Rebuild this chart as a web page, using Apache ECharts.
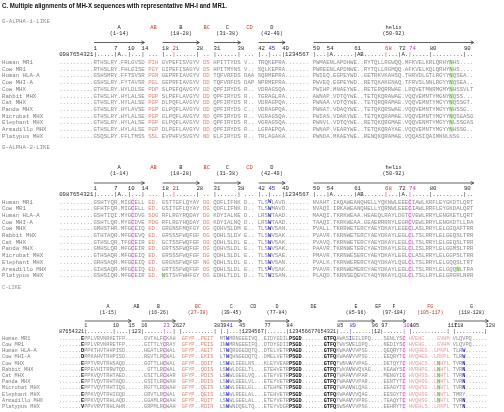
<!DOCTYPE html>
<html><head><meta charset="utf-8">
<script src="https://cdn.jsdelivr.net/npm/echarts@6.0.0/dist/echarts.min.js"></script>
<style>html,body{margin:0;padding:0;background:#fff;}#chart{width:504px;height:412px;}</style>
</head><body><div id="chart"></div>
<script>
// ================= DATA =================
const TITLE = 'C. Multiple alignments of MH-X sequences with representative MH-I and MR1.';
const SPECIES = ['Human MR1','Cow MR1','Human HLA-A','Cow MHI-A','Cow MHX','Rabbit MHX','Cat MHX','Panda MHX','Microbat MHX','Elephant MHX','Armadillo MHX','Platypus MHX'];

// ---- G-ALPHA-1-LIKE ----
const P1_TITLE = 'G-ALPHA-1-LIKE';
const P1_LABELS = ['', 'A', 'AB', 'B', 'BC', 'C', 'CD', 'D', 'helix'];
const P1_RANGES = ['', '(1-14)', '', '(18-28)', '', '(31-38)', '', '(42-49)', '(50-92)'];
const P1_RULER = ['0987654321','|.....|A..|...|','...','|..|......|','..','|......|','...','|..|...|1234567','|...|A......|AB......|...|A.|.....|.........|..'];
const P1_STARTS = [null, 1, 15, 18, 29, 31, 39, 42, 50];
const P1_NUMBERS = [1,7,10,14,18,21,28,31,38,42,45,49,50,54,61,68,72,74,80,90];
const P1_LEAD = ['..........','..........','..........','..........','..........','..........','..........','..........','..........','..........','..........','..........'];
const P1_A = ['RTHSLRY.FRLGVSD','RTHSLRY.FHLGISE','GSHSMRY.FFTSVSR','GSHSLRY.FYTAVSR','GTHSLRY.HYLDLSE','GTHSLHY.HYLALSE','GTHSLRY.HYLALSE','GTHSLRY.HYLAVSE','GTHSLRY.HYLALSE','GTHSLRY.HYLALSE','GTHSLRY.HYLALSE','GSQSLRY.FFLTMSS'];
const P1_AB = ['PIH','PGY','PGR','PGL','PDP','PGP','PGP','PGP','PGP','PGP','PGP','SSL'];
const P1_B = ['GVPEFISVGYV','GIPEFISAGYV','GEPRFIAVGYV','GEPRFIAVGYV','SLPEFQAVGYV','SLPEFLAVGYV','DLPQFLAVGYV','GLPQFLAVGYV','GLPQFLAVGYV','GLPQFLAVGYV','DLPEFLAVGYV','EVPHFVSVGYV'];
const P1_BC = ['DS','DS','DD','DD','DD','DD','DD','DD','ND','DD','DD','ND'];
const P1_C = ['HPITTYDS','HPITMYNS','TQFVRFDS','TQFVRFDS','QPFIRYDS','QPFIRYDS','QPFIRYDS','QPFIRYDS','QPFIRYDS','QPFIRYDS','QPFIRYDS','ELFIRYDS'];
const P1_CD = ['V..','V..','DAA','DAP','R..','R..','R..','C..','R..','R..','R..','R..'];
const P1_D = ['TRQKEPRA.......','SQLKEPRA.......','SQRMEPRA.......','NPRMEPRA.......','VDRAGSQA.......','TGRAGLRA.......','VDRAGPQA.......','VDRAGPQA.......','VGRAGSQA.......','VGRAGSQA.......','LGRAEPQA.......','TRLAGAKA.......'];
const P1_H = [
 'PWMAENLAPDHWE..RYTQLLRGWQQ.MFKVELKRLQRHYNHS....',
 'PWREENLAPDNWE..RYTQLLRGMQQ.AFKVELKQLQRHYNHS....',
 'PWIEQ.EGPEYWD..GETRKVKAHSQ.THRVDLGTLRGYYNQSEA..',
 'PWVEQ.EGPEYWD..RETQKAKGNAQ.TFRVSLNNLRGYYNQSEA..',
 'PWIHP.MNAEYWE..RETERQRRWAE.LRQVETMNRMGMYNHSSVLT',
 'AWNAP.VDTQYWE..TETQKQRAWAE.VQQVEMNTYMGNYNQSS...',
 'PWNAA.VDTQYWE..TETQRQRAMAE.VQQVEMNTYMGYYNQSSGT.',
 'PWNAT.VDAQYWE..TETQKQRSWAE.VQQVEMNTYMGYYNHSSG..',
 'PWIAS.VDAKYWE..TETQKQRAMAE.VQQVEMNTYMGYYNQSGASG',
 'PWNVL.VDTQYWE..RETQKQRGMAE.VQQVENMTYMGYYNLSSGAS',
 'PWNAP.VEARYWE..TETQKQRAYAE.VQQVEMNTYMGYYNHSSG..',
 'PWNDA.MKAEYWE..RENQKQRAMAE.VQQASIQAIMNNLNSG....'];

// ---- G-ALPHA-2-LIKE ----
const P2_TITLE = 'G-ALPHA-2-LIKE';
const P2_LABELS = P1_LABELS;
const P2_RANGES = P1_RANGES;
const P2_RULER = P1_RULER;
const P2_STARTS = P1_STARTS;
const P2_NUMBERS = P1_NUMBERS;
const P2_LEAD = P1_LEAD;
const P2_A = ['GSHTYQR.MIGCELL','GFHTFQR.MIGCELL','GSHTIQI.MYGCDVG','GSHTLQR.MYGCDVE','GMHSTHR.MFGCEIQ','GTHTAQR.MFGCEVQ','GTHSLQR.TFGCEIR','GMHSLQR.MFGCEIR','GTHSAQR.MFGCEIQ','GRHSAQR.MFGCEIQ','GIHSAQR.MFGCEIQ','GSHSIQR.MFGCEIR'];
const P2_AB = ['ED.','ED.','SDG','PDG','ED.','ED.','ED.','ED.','ED.','ED.','ED.','ED.'];
const P2_B = ['GSTTGFLQYAY','GSITGFLQYAY','RFLRGYRQDAY','RFLRGYHQDAY','GRGNSFMQFGY','GRSSSFWQFGF','GCTSSFWQFGF','GRTSSFWQFGF','GRSSSFWQFGF','GRGNSFWQFGF','GRTSSFWQFGF','NSTSVFWHFGY'];
const P2_BC = ['DG','DG','DG','DG','DG','DG','DG','DG','DG','NG','DG','DG'];
const P2_C = ['QDFLIFNK','QDFLIFNK','KDYIALNE','KDYIALNQ','QDHVSLDM','QDHLSLDV','QDHLSLDL','QDHVSLDL','QDHLSLDL','QDHLSLDL','QDHLSLDL','EDHLTLDL'];
const P2_CD = ['D..','D..','D..','D..','E..','E..','E..','E..','E..','E..','E..','D..'];
const P2_D = ['TLSWLAVD.......','TLSWMAVD.......','LRSWTAAD.......','LRSWTAAD.......','TLSWVSAN.......','TLSWVSAK.......','TLSWVSAK.......','TLSWVSAK.......','TLSWVSAE.......','TLSWVSAN.......','TLSWVSAK.......','TLTWISAN.......'];
const P2_H = [
 'NVAHT.IKQAWEANQHELLYQKNWLEEECIAWLKRFLEYGKDTLQRT',
 'NVAQI.IRKAWEANQHELLYQRNWLEEECIAWLRRFLEYGKDALQRT',
 'MAAQI.TKRKWEAA.HEAEQLRAYLDGTCVEWLRRYLENGKETLQRT',
 'TAAQI.TKRKWEAA.GEAERRRNYLEGRCVEWLRRYLENGKDTLLRA',
 'PVALL.TKRRWETERCYAEYDKAYLEGECLASLRRYLELGGQAFTRR',
 'PVAVR.TKRNWETERCYAEYDKAYLEGLCLTSLRRYLELGEQSLTRR',
 'PVAVQ.TKRNWETERCYAEYDKAYLEGLCLTSLRRYLELGEQSLTRR',
 'PAAVR.TKRNWETERCYAEYDKAYLEGLCLISLRRYLELGGMSLTRR',
 'PMAVR.TKRNWESERCYAEYDKAYLEGLCLASLRRYLELGGPSLTRR',
 'PVALK.TKRNWERERCYAQYDKAYLQGLCLTSLRRYLELGQQSLTRT',
 'PVAVR.TKRNWEMERCYAEYDKAYLEGLCLTSLRRYLELGQQNLTRA',
 'PLAQD.TKRNSEQEVCYAQYNKAYLQGLCLTSLLRYLELGRGRLNRR'];

// ---- C-LIKE ----
const P3_TITLE = 'C-LIKE';
const P3_LABELS = ['', 'A', 'AB', 'B', 'BC', 'C', 'CD', 'D', 'DE', 'E', 'EF', 'F', 'FG', 'G'];
const P3_RANGES = ['', '(1-15)', '', '(16-26)', '(27-38)', '(39-45)', '', '(77-84)', '', '(85-96)', '', '(97-104)', '(105-117)', '(118-128)'];
const P3_RULER = ['87654321','|........|....|','123','|......|..|','|..........|','|.|...|','1234567','|......|','123456677654321','|...|......|','12','|......|','|...........|','|.........|'];
const P3_STARTS = [null, 1, null, 16, 27, 39, null, 77, null, 85, null, 97, 105, 118];
const P3_NUMBERS = [1,10,15,16,23,26,27,38,39,41,45,77,84,85,89,96,97,104,105,117,118,128];
const P3_LEAD = ['.......E','.......E','.......D','.......D','.......E','.......E','.......E','.......E','.......E','.......E','.......E','.......V'];
const P3_A = ['PPLVRVNRKETFP..','PPLVRVNRRETFP..','PPKTHVTHHPISD..','PPKAHVTRHPISD..','PPTVRVTRHSAQD..','PPEVHITRRWTQD..','PPKVQVTRHTAED..','PPTVQVTRHTAQD..','PPTVQVTRHTIQG..','PPKVQVTRHIGQD..','PPKVQVTRHLAQD..','PPVVRVTRHLAHN..'];
const P3_AB = ['...','...','...','...','...','...','...','...','...','...','...','...'];
const P3_B = ['.GVTALFCKAH','.GITTLYCRAY','.HEATLRCWAL','.REVTLRCWAL','.GGTTLHCWAL','..GTTLRCWAL','.GSITLRCWAR','.GSITLRCWAH','.RGTTLRCWAH','.GRVTLRCWAL','.GGAMLRCWAH','.GRPMLRCWAH'];
const P3_BC = [' GFYP..PEIT ',' GFYP..PEIS ',' GFYP..AEIT ',' GFYP..EKIS ',' GFYP..QDIT ',' GFYP..QDIS ',' GFYP..RDIS ',' GFYP..RDIS ',' GFYP..QEIS ',' GFYP..QEIS ',' GFYP..RDIT ',' GFYP..RDIR '];
const P3_C = ['MTWMRNG','INWMRNG','LTWQRDG','LTWQHNG','LSWWLGE','LSWWLDG','LSWWLGE','LSWWLGE','LSWWLGE','LSWWLRE','LSWWLGE','LSWWNDQ'];
const P3_CD = ['EEIVQ..','EEIFQ..','EDQTQ..','EDQTQ..','ELNS...','ELTL...','ELVQ...','ELVL...','ELGL...','ELAL...','ELAL...','ELTQ...'];
const P3_D = ['EIDYGDIL','DTDYGDII','DTELVETR','DMELVETR','KLEYVEAR','ETEHVETR','ETEYVETR','ETEYVETR','ETEHMETR','ETEHVETR','ETEYVETR','ETEYVDGR'];
const P3_DE = ['PSGD.......GTFQ','PSGD.......GTFQ','PAGD.......GTFQ','PSGD.......GTFQ','PSGD.......GTFQ','PSGD.......GTFQ','PSGD.......GTFQ','PSGD.......GTFQ','PSGD.......GTFQ','PSGD.......GTFQ','PSGD.......GTFQ','PSGD.......GTFQ'];
const P3_E = ['AWASIEILDPQ.','TWVSVELDPQ..','KWAAVVVPSG..','KWAAVVVPSG..','TWNVAVVPAG..','TWVAVWVQVAG.','TWAAVVVPAR..','TWAAVVVPAR..','TWAAVWLQAG..','KWAAVVVQAG..','TWAAVVVPRG..','SWSAVVVPSG..'];
const P3_EF = ['..','..','..','..','..','..','..','..','..','..','..','..'];
const P3_F = ['.SENLYSC','.NEDIYSC','.QEQRYTC','.EEQRYTC','.DETQYTC','.KEAWYSC','.MENGYIC','.EENTYTC','.EEAGYTC','.EESGYTC','.TEAQYTC','.EEHRYTC'];
const P3_FG = ['HVEHC....GVHM','HVEHG....GVHM','HVQHEG..LPKPL','HVQHEG..LRKPL','HVQHCS..LNHTL','HVRHPG..LNHTL','HVQHSS..LNHTL','HVQHSG..LNHTL','HVQHSG..LNHTL','HVQHSG..LNHTL','HVQHSG..LNHTL','HVEHLS..LRKPL'];
const P3_G = ['VLQVPQ.....','VLQVPQ.....','TLRW.......','TLRW.......','TVRN.......','TVRN.......','TVRN.......','TVRN.......','TVRN.......','TMRY.......','TVRN.......','TVTN.......'];

// ================= STYLE / LAYOUT =================
const MONO = "'Liberation Mono','DejaVu Sans Mono',monospace";
const C_SEQ = '#8d8d8d', C_NAME = '#7d7d7d', C_HEAD = '#2a2a2a';
const C_RED = '#c0392b', C_BLUE = '#2b2bc8', C_PURPLE = '#b23cb2';

const PANELS = [
 { title: P1_TITLE, labels: P1_LABELS, ranges: P1_RANGES, ruler: P1_RULER, starts: P1_STARTS, numbers: P1_NUMBERS,
   seqs: [P1_LEAD, P1_A, P1_AB, P1_B, P1_BC, P1_C, P1_CD, P1_D, P1_H],
   seps: ['', ' ', ' ', ' ', ' ', ' ', ' ', ' ', ''],
   base: ['g','g','s','g','s','g','g','g','g'],
   redLabel: [2,4,6], arrows: [1,3,5,7,8],
   numColor: {21:C_RED, 45:C_BLUE, 68:C_RED, 74:C_PURPLE},
   marks: [[8,40,'n',[0,1,2,3,4,5,6,7,8,9,10]]],
   L: {titleY:21, lab1:28, lab2:33.5, arrow:42.5, num:48, ruler:54, row0:62.5, pitch:6.7, x0:59.2, cw:3.43} },
 { title: P2_TITLE, labels: P2_LABELS, ranges: P2_RANGES, ruler: P2_RULER, starts: P2_STARTS, numbers: P2_NUMBERS,
   seqs: [P2_LEAD, P2_A, P2_AB, P2_B, P2_BC, P2_C, P2_CD, P2_D, P2_H],
   seps: ['', ' ', ' ', ' ', ' ', ' ', ' ', ' ', ''],
   base: ['g','g','s','g','s','g','g','g','g'],
   redLabel: [2,4,6], arrows: [1,3,5,7,8],
   numColor: {21:C_RED, 45:C_BLUE, 68:C_RED, 74:C_PURPLE},
   marks: [[1,11,'c'],[7,3,'w'],[8,28,'c'],[8,42,'n',[10]],[3,0,'n',[11]]],
   L: {titleY:147, lab1:168, lab2:173.5, arrow:183, num:188.5, ruler:194.5, row0:202, pitch:6.7, x0:59.2, cw:3.43} },
 { title: P3_TITLE, labels: P3_LABELS, ranges: P3_RANGES, ruler: P3_RULER, starts: P3_STARTS, numbers: P3_NUMBERS,
   seqs: [P3_LEAD, P3_A, P3_AB, P3_B, P3_BC, P3_C, P3_CD, P3_D, P3_DE, P3_E, P3_EF, P3_F, P3_FG, P3_G],
   seps: ['', '', '', ' ', ' ', '', '', '', '', '', '', ' ', ' ', ''],
   base: ['g','g','g','g','s','g','g','g','g','g','g','g','p','g'],
   redLabel: [4,12], redRange: [4,12], arrows: [1,3,5,7,9,11,13],
   numColor: {23:C_PURPLE, 41:C_BLUE, 89:C_BLUE, 104:C_PURPLE},
   marks: [[0,7,'b'],[3,7,'c'],[5,2,'w'],[8,0,'b'],[8,1,'b'],[8,2,'b'],[8,3,'b'],[8,11,'b'],[8,12,'b'],[8,13,'b'],[8,14,'b'],
           [9,4,'v'],[11,7,'c'],[12,9,'n',[4,5,6,7,8,9,10]],[13,3,'w',[2,3,4,5,6,7,8,10,11]]],
   L: {titleY:288, lab1:307, lab2:313, arrow:321, num:326, ruler:331.5, row0:338.5, pitch:6.2, x0:59, cw:3.16} }
];

// ================= RENDER =================
const chart = echarts.init(document.getElementById('chart'), null, {renderer: 'canvas'});
const els = [];

function text(x, y, t, font, fill, align, extra) {
  els.push(Object.assign({ type: 'text', x: x, y: y, silent: true,
    style: { text: t, font: font, fill: fill, align: align || 'left', verticalAlign: 'middle',
             textAlign: align || 'left', textVerticalAlign: 'middle' } }, extra || {}));
}

function makeRich(fs) {
  const base = { fontFamily: MONO, fontSize: fs, lineHeight: fs + 1 };
  const mk = (o) => Object.assign({}, base, o);
  return {
    g: mk({ fill: C_SEQ, color: C_SEQ }),
    s: mk({ fill: '#d88673', color: '#d88673' }),
    p: mk({ fill: '#e0a0a4', color: '#e0a0a4' }),
    c: mk({ fill: '#cc2ccc', color: '#cc2ccc', backgroundColor: '#f9e0f9' }),
    w: mk({ fill: C_BLUE, color: C_BLUE, fontWeight: 'bold' }),
    v: mk({ fill: C_BLUE, color: C_BLUE }),
    n: mk({ fill: '#4f9a3a', color: '#4f9a3a', backgroundColor: '#dcf3cf' }),
    b: mk({ fill: '#111', color: '#111', fontWeight: 'bold' }),
    sp: mk({ fill: C_SEQ, color: C_SEQ }),
    r: mk({ fill: C_HEAD, color: C_HEAD }),
    rr: mk({ fill: C_RED, color: C_RED }),
    rb: mk({ fill: C_BLUE, color: C_BLUE }),
    rp: mk({ fill: C_PURPLE, color: C_PURPLE })
  };
}

function pushRun(out, st, buf) { return buf ? out + '{' + st + '|' + buf + '}' : out; }

PANELS.forEach(P => {
  const L = P.L, fs = L.cw / 0.6;
  const rich = makeRich(fs);
  const font = fs.toFixed(3) + 'px ' + MONO;
  const offs = []; let o = 0;
  P.ruler.forEach((r, i) => { offs.push(o); o += r.length + P.seps[i].length; });
  const colX = idx => L.x0 + idx * L.cw;

  const numIdx = {}; const spans = [];
  P.ruler.forEach((r, si) => {
    let n = P.starts[si], first = -1, last = -1;
    for (let i = 0; i < r.length; i++) {
      const ch = r[i];
      if (ch === '|' || ch === '.') {
        if (n !== null) { numIdx[n] = offs[si] + i; n++; }
        if (first < 0) first = i; last = i;
      }
    }
    if (first < 0) { first = 0; last = r.length - 1; }
    spans.push([offs[si] + first, offs[si] + last + 1]);
  });

  text(2, L.titleY, P.title, font, '#8a8a8a');

  P.labels.forEach((lab, si) => {
    if (!lab) return;
    const cx = (colX(spans[si][0]) + colX(spans[si][1])) / 2;
    const red = (P.redLabel || []).indexOf(si) >= 0;
    text(cx, L.lab1, lab, (fs * 0.95).toFixed(2) + 'px ' + MONO, red ? C_RED : C_HEAD, 'center');
    if (P.ranges[si]) {
      const rr = (P.redRange || []).indexOf(si) >= 0;
      text(cx, L.lab2, P.ranges[si], (fs * 0.92).toFixed(2) + 'px ' + MONO, rr ? C_RED : C_HEAD, 'center');
    }
  });

  P.arrows.forEach(si => {
    const xa = colX(spans[si][0]) + 0.5, xb = colX(spans[si][1]) - 0.5, y = L.arrow;
    els.push({ type: 'line', silent: true, shape: { x1: xa, y1: y, x2: xb, y2: y }, style: { stroke: '#3a3a3a', lineWidth: 0.8 } });
    els.push({ type: 'polyline', silent: true, shape: { points: [[xb - 3, y - 1.7], [xb, y], [xb - 3, y + 1.7]] }, style: { stroke: '#3a3a3a', lineWidth: 0.8, fill: null } });
  });

  P.numbers.forEach(n => {
    if (numIdx[n] === undefined) return;
    text(colX(numIdx[n]), L.num, String(n), font, P.numColor[n] || C_HEAD, 'left');
  });

  let rs = '';
  const tickColorKey = {}; Object.keys(P.numColor).forEach(k => {
    const c = P.numColor[k]; tickColorKey[numIdx[k]] = c === C_RED ? 'rr' : c === C_BLUE ? 'rb' : 'rp';
  });
  P.ruler.forEach((r, si) => {
    let cur = null, buf = '';
    for (let i = 0; i < r.length; i++) {
      const st = (r[i] === '|' && tickColorKey[offs[si] + i]) || 'r';
      if (st !== cur) { rs = pushRun(rs, cur, buf); cur = st; buf = ''; }
      buf += r[i];
    }
    rs = pushRun(rs, cur, buf);
    if (P.seps[si]) rs += '{r|' + P.seps[si] + '}';
  });
  els.push({ type: 'text', x: L.x0, y: L.ruler, silent: true,
    style: { text: rs, rich: rich, font: font, fill: C_HEAD, align: 'left', verticalAlign: 'middle', textAlign: 'left', textVerticalAlign: 'middle' } });

  SPECIES.forEach((name, r) => {
    const y = L.row0 + r * L.pitch;
    text(2, y, name, font, C_NAME, 'left');
    let out = '';
    P.seqs.forEach((arr, si) => {
      let t = arr[r];
      const want = P.ruler[si].length;
      if (t.length < want) t = t + ' '.repeat(want - t.length);
      if (t.length > want) t = t.slice(0, want);
      let cur = null, buf = '';
      for (let i = 0; i < t.length; i++) {
        let st = P.base[si];
        P.marks.forEach(m => { if (m[0] === si && m[1] === i && (!m[3] || m[3].indexOf(r) >= 0)) st = m[2]; });
        if (st !== cur) { out = pushRun(out, cur, buf); cur = st; buf = ''; }
        buf += t[i];
      }
      out = pushRun(out, cur, buf);
      if (P.seps[si]) out += '{sp|' + P.seps[si] + '}';
    });
    els.push({ type: 'text', x: L.x0, y: y, silent: true,
      style: { text: out, rich: rich, font: font, fill: C_SEQ, align: 'left', verticalAlign: 'middle', textAlign: 'left', textVerticalAlign: 'middle' } });
  });
});

// main title (horizontally condensed to match the narrow bold face)
els.push({ type: 'text', x: 2, y: 5.5, scaleX: 0.83, silent: true,
  style: { text: TITLE, font: "bold 7.4px 'Liberation Sans',sans-serif", fill: '#111', align: 'left', verticalAlign: 'middle', textAlign: 'left', textVerticalAlign: 'middle' } });

chart.setOption({ animation: false, graphic: { elements: els } });
</script></body></html>
